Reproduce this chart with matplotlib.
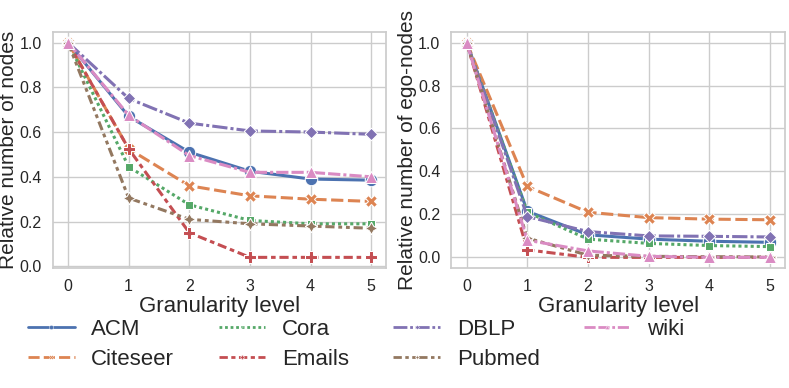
import matplotlib
matplotlib.use("Agg")
import matplotlib.pyplot as plt
import seaborn as sns
from matplotlib.lines import Line2D

sns.set_theme(style="whitegrid")
plt.rcParams['font.family'] = ['Liberation Sans', 'DejaVu Sans']

levels = [0, 1, 2, 3, 4, 5]
datasets = ["ACM", "Citeseer", "Cora", "Emails", "DBLP", "Pubmed", "wiki"]

# relative number of nodes
nodes_acm = [1.0, 0.67, 0.51, 0.425, 0.39, 0.385]
nodes_citeseer = [1.0, 0.525, 0.36, 0.315, 0.30, 0.29]
nodes_cora = [1.0, 0.445, 0.275, 0.205, 0.19, 0.19]
nodes_emails = [1.0, 0.525, 0.15, 0.04, 0.04, 0.04]
nodes_dblp = [1.0, 0.75, 0.64, 0.605, 0.60, 0.59]
nodes_pubmed = [1.0, 0.305, 0.21, 0.19, 0.18, 0.17]
nodes_wiki = [1.0, 0.675, 0.495, 0.42, 0.42, 0.40]

# relative number of ego-nodes
ego_acm = [1.0, 0.215, 0.105, 0.085, 0.075, 0.07]
ego_citeseer = [1.0, 0.33, 0.21, 0.185, 0.178, 0.175]
ego_cora = [1.0, 0.21, 0.085, 0.065, 0.055, 0.05]
ego_emails = [1.0, 0.035, 0.0, 0.0, 0.0, 0.0]
ego_dblp = [1.0, 0.19, 0.12, 0.10, 0.098, 0.095]
ego_pubmed = [1.0, 0.09, 0.01, 0.005, 0.003, 0.002]
ego_wiki = [1.0, 0.08, 0.03, 0.005, 0.0, 0.0]

nodes = [nodes_acm, nodes_citeseer, nodes_cora, nodes_emails, nodes_dblp, nodes_pubmed, nodes_wiki]
ego = [ego_acm, ego_citeseer, ego_cora, ego_emails, ego_dblp, ego_pubmed, ego_wiki]

colors = sns.color_palette("deep", 7)
markers = ["o", "X", (4, 0, 45), "P", (4, 0, 0), (4, 1, 0), "^"]
dashes = [(None, None), (4, 1.5), (1, 1), (3, 1.25, 1.5, 1.25), (5, 1, 1, 1),
          (3, 1.25, 1.25, 1.25, 1.25, 1.25), (4, 1, 4, 1, 1, 1)]

fig, axes = plt.subplots(1, 2, figsize=(7.89, 3.88), dpi=100)
fig.subplots_adjust(left=0.067, right=0.995, top=0.918, bottom=0.309, wspace=0.195)

for ax, series, ylab in zip(axes, [nodes, ego],
                            ["Relative number of nodes", "Relative number of ego-nodes"]):
    for i, name in enumerate(datasets):
        line, = ax.plot(levels, series[i], color=colors[i], marker=markers[i],
                        markersize=9, markeredgecolor="white", markeredgewidth=0.75,
                        linewidth=2.2)
        if i > 0:
            line.set_dashes(dashes[i])
    ax.set_xlabel("Granularity level", fontsize=16, labelpad=1, color=".15")
    ax.set_ylabel(ylab, fontsize=15, labelpad=1, color=".15")
    ax.tick_params(labelsize=11.5, pad=2, labelcolor=".15")
    ax.set_xticks(levels)
    ax.set_yticks([0.0, 0.2, 0.4, 0.6, 0.8, 1.0])

handles = []
for i, name in enumerate(datasets):
    h = Line2D([], [], color=colors[i], marker=markers[i], markersize=3,
               markeredgecolor="white", markeredgewidth=0.3, linewidth=2)
    if i > 0:
        h.set_dashes(dashes[i])
    handles.append(h)

fig.legend(handles, datasets, loc="lower left", bbox_to_anchor=(0.01, -0.005),
           ncol=4, frameon=False, fontsize=16, handlelength=2.1,
           handletextpad=0.75, columnspacing=2.0, labelspacing=0.4,
           labelcolor=".15")

fig.savefig("out.png", dpi=100)
